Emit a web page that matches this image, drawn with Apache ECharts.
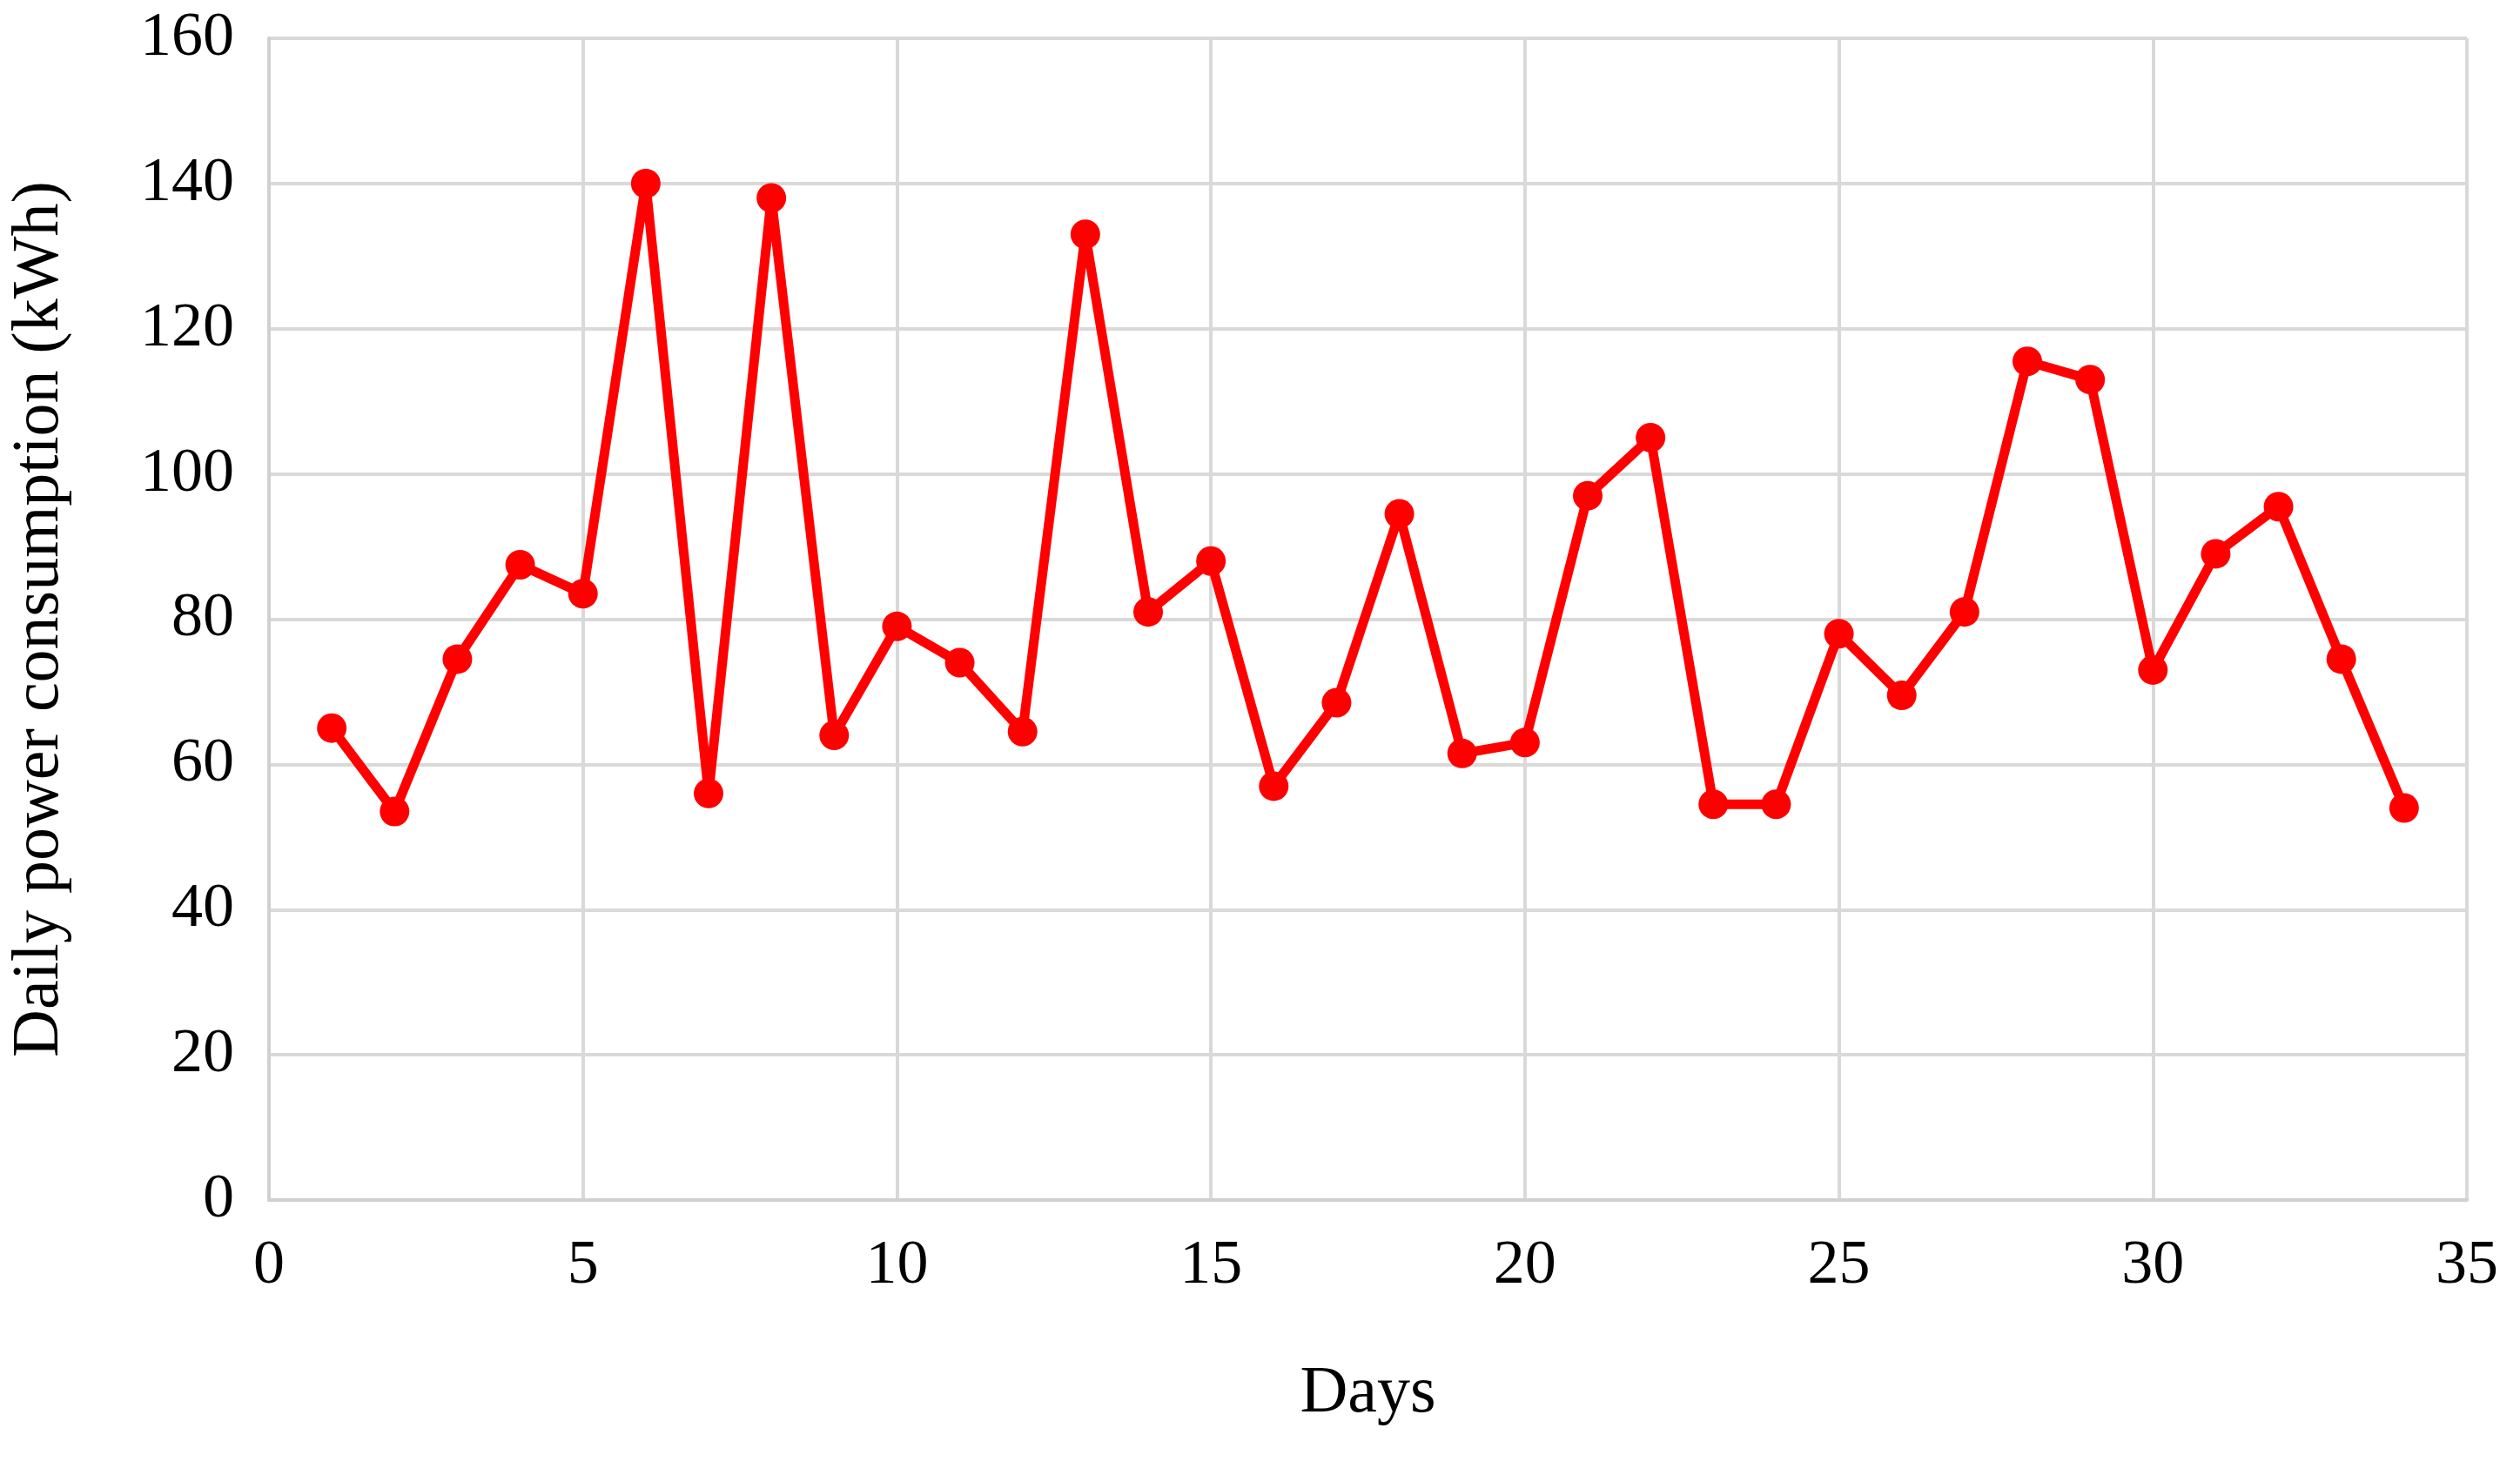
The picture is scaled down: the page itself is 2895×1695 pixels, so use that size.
<!DOCTYPE html>
<html>
<head>
<meta charset="utf-8">
<script src="https://cdn.jsdelivr.net/npm/echarts@6/dist/echarts.min.js"></script>
<style>html,body{margin:0;padding:0;background:#fff}#chart{width:2895px;height:1695px}</style>
</head>
<body>
<div id="chart"></div>
<script>
// daily consumption per day
const days = [1,2,3,4,5,6,7,8,9,10,11,12,13,14,15,16,17,18,19,20,21,22,23,24,25,26,27,28,29,30,31,32,33,34];
const consumption = [65,53.5,74.5,87.5,83.5,140,56,138,64,79,74,64.5,133,81,88,57,68.5,94.5,61.5,63,97,105,54.5,54.5,78,69.5,81,115.5,113,73,89,95.5,74.5,54];

const font = 'Liberation Serif';
const chart = echarts.init(document.getElementById('chart'));
chart.setOption({
    animation: false,
    backgroundColor: '#fff',
    grid: {left: 308, right: 61, top: 44, bottom: 316},
    xAxis: {
        type: 'value', min: 0, max: 35, interval: 5,
        name: 'Days', nameLocation: 'middle', nameGap: 185,
        nameTextStyle: {fontFamily: font, fontSize: 76, color: '#000'},
        axisLine: {show: true, lineStyle: {color: '#d0d0d0', width: 4}},
        axisTick: {show: false},
        axisLabel: {fontFamily: font, fontSize: 72, color: '#000', margin: 40},
        splitLine: {show: true, lineStyle: {color: '#d9d9d9', width: 4}}
    },
    yAxis: {
        type: 'value', min: 0, max: 160, interval: 20,
        name: 'Daily power consumption (kWh)', nameLocation: 'middle', nameGap: 225,
        nameTextStyle: {fontFamily: font, fontSize: 76, color: '#000'},
        axisLine: {show: true, lineStyle: {color: '#d0d0d0', width: 4}},
        axisTick: {show: false},
        axisLabel: {fontFamily: font, fontSize: 72, color: '#000', margin: 40},
        splitLine: {show: true, lineStyle: {color: '#d9d9d9', width: 4}}
    },
    series: [{
        type: 'line',
        data: days.map((d, i) => [d, consumption[i]]),
        symbol: 'circle', symbolSize: 34,
        lineStyle: {color: '#ff0000', width: 11},
        itemStyle: {color: '#ff0000'}
    }]
});
</script>
</body>
</html>
